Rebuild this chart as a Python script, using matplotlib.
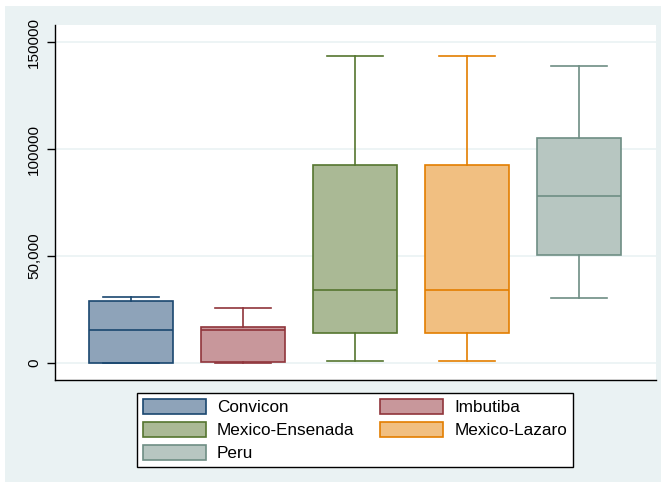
import matplotlib.pyplot as plt
from matplotlib.patches import Patch, Rectangle
from matplotlib.ticker import FixedLocator

plt.rcParams['font.family'] = ['Liberation Sans', 'DejaVu Sans']

groups = ['Convicon', 'Imbutiba', 'Mexico-Ensenada', 'Mexico-Lazaro', 'Peru']
lower_adj = [0, 0, 900, 900, 30500]
q1 = [0, 500, 14200, 14200, 50500]
median = [15400, 15600, 34100, 34100, 78000]
q3 = [29000, 16900, 92500, 92500, 105100]
upper_adj = [30800, 25700, 143500, 143500, 138800]

edge_colors = ['#1a476f', '#90353b', '#55752f', '#e37e00', '#6e8e84']
fill_colors = ['#8ea3b9', '#c8979b', '#aab995', '#f1bf81', '#b7c6c1']

ytick_vals = [0, 50000, 100000, 150000]
ytick_labels = ['0', '50,000', '100000', '150000']

bg = '#eaf2f3'

fig = plt.figure(figsize=(6.66, 4.88), dpi=100, facecolor='white')
fig.patches.append(Rectangle((5 / 666, 6 / 488), 656 / 666, 476 / 488,
                             transform=fig.transFigure, facecolor=bg,
                             edgecolor='none', zorder=-5))
ax = fig.add_axes([55 / 666, 108 / 488, 601 / 666, 355 / 488])
ax.set_facecolor('white')

stats = []
for i, g in enumerate(groups):
    stats.append(dict(label=g, whislo=lower_adj[i], q1=q1[i], med=median[i],
                      q3=q3[i], whishi=upper_adj[i], fliers=[]))

for i, s in enumerate(stats):
    c = edge_colors[i]
    ax.bxp([s], positions=[i + 1], widths=0.75, patch_artist=True,
           showfliers=False, capwidths=[0.5], manage_ticks=False,
           boxprops=dict(facecolor=fill_colors[i], edgecolor=c, linewidth=1.2),
           medianprops=dict(color=c, linewidth=1.2),
           whiskerprops=dict(color=c, linewidth=1.2),
           capprops=dict(color=c, linewidth=1.2))

ax.set_xlim(0.32, 5.69)
ax.set_ylim(-7950, 157950)
ax.yaxis.set_major_locator(FixedLocator(ytick_vals))
ax.set_yticklabels(ytick_labels, rotation=90, va='center', fontsize=11)
ax.set_xticks([])
ax.grid(axis='y', color=bg, linewidth=1.2, zorder=0)
ax.set_axisbelow(True)
ax.tick_params(axis='y', length=6, width=1, pad=4)
for side in ['top', 'right']:
    ax.spines[side].set_visible(False)
for side in ['left', 'bottom']:
    ax.spines[side].set_color('black')
    ax.spines[side].set_linewidth(1)

# legend fills column-wise, so order handles to read row by row
order = [0, 2, 4, 1, 3]
handles = [Patch(facecolor=fill_colors[i], edgecolor=edge_colors[i],
                 linewidth=1.2, label=groups[i]) for i in order]
leg = fig.legend(handles=handles, ncol=2, loc='center',
                 bbox_to_anchor=(355 / 666, 58 / 488), fontsize=12.3,
                 frameon=True, fancybox=False, edgecolor='black',
                 facecolor='white', framealpha=1,
                 handlelength=3.7, handleheight=1.0, handletextpad=0.64,
                 labelspacing=0.38, columnspacing=1.5, borderpad=0.35)
leg.get_frame().set_linewidth(1)

fig.savefig('out.png', dpi=100, facecolor='white')
